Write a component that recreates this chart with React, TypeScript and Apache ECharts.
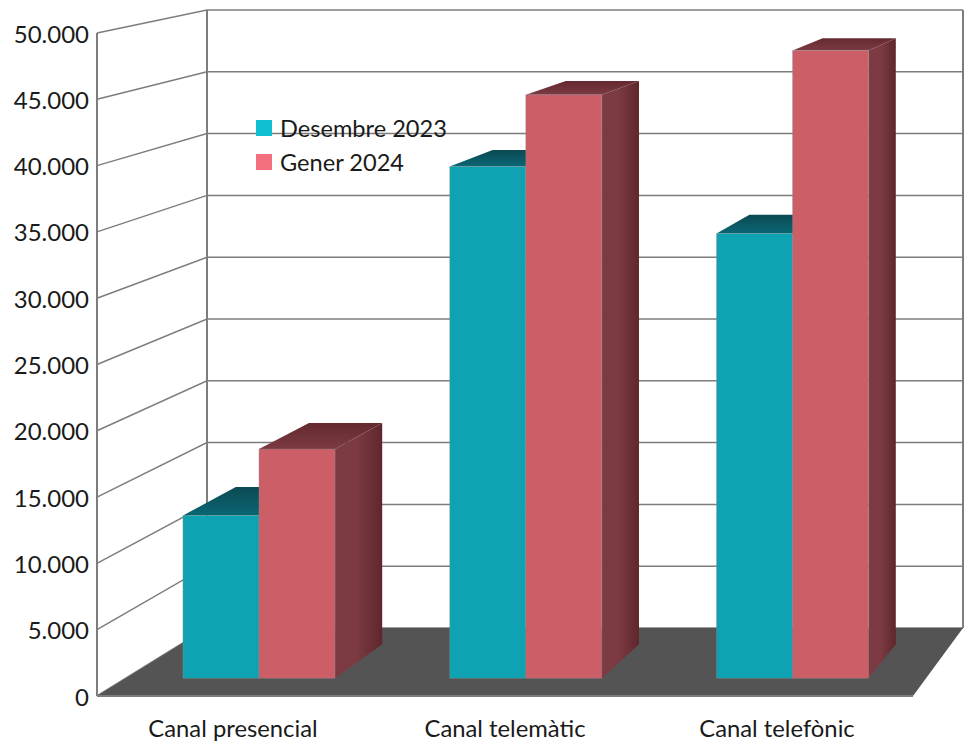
import React, { useEffect, useRef } from "react";
import * as echarts from "echarts";

const categories = ["Canal presencial", "Canal telemàtic", "Canal telefònic"];
const desembre2023 = [12500, 39300, 34150];
const gener2024 = [17600, 44800, 48200];
const tickValues = [0, 5000, 10000, 15000, 20000, 25000, 30000, 35000, 40000, 45000, 50000];

const FONT = "Lato";
const WIDTH = 970;
const HEIGHT = 744;

// Offsets of the back plane of the 3D box relative to the front plane.
const BACK = { left: 110, right: 50, top: -23, bottom: -68 };
const BAR_NEAR = 0.26;
const BAR_FAR = 0.76;
const BAR_BAND_SHARE = 0.285;

type Rect = { x: number; y: number; width: number; height: number };

// Carries a point of the front plane to the given depth (0 front, 1 back).
function project(cs: Rect, x: number, y: number, t: number): number[] {
  const fx = (x - cs.x) / cs.width;
  const fy = (cs.y + cs.height - y) / cs.height;
  const left = cs.x + BACK.left * t;
  const right = cs.x + cs.width + BACK.right * t;
  const bottom = cs.y + cs.height + BACK.bottom * t;
  const top = cs.y + BACK.top * t;
  return [left + fx * (right - left), bottom - fy * (bottom - top)];
}

function renderWallLine(params: any, api: any) {
  const cs = params.coordSys as Rect;
  const y = api.coord([0, api.value(1)])[1];
  const a = project(cs, cs.x, y, 0);
  const b = project(cs, cs.x, y, 1);
  const c = project(cs, cs.x + cs.width, y, 1);
  return {
    type: "polyline",
    silent: true,
    shape: { points: [a, b, c] },
    style: { fill: "none", stroke: "#7d7d7d", lineWidth: 1.5 },
  };
}

function renderFrame(params: any) {
  const cs = params.coordSys as Rect;
  const l = cs.x;
  const r = cs.x + cs.width;
  const t = cs.y;
  const b = cs.y + cs.height;
  const stroke = { stroke: "#7d7d7d", lineWidth: 2 };
  const edge = (p: number[], q: number[]) => ({
    type: "line",
    silent: true,
    shape: { x1: p[0], y1: p[1], x2: q[0], y2: q[1] },
    style: stroke,
  });
  return {
    type: "group",
    children: [
      edge([l, t], [l, b]),
      edge(project(cs, l, t, 1), project(cs, l, b, 1)),
      edge(project(cs, r, t, 1), project(cs, r, b, 1)),
      {
        type: "polygon",
        silent: true,
        shape: {
          points: [[l, b], project(cs, l, b, 1), project(cs, r, b, 1), [r, b]],
        },
        style: { fill: "#545454" },
      },
      edge([l, b], [r, b]),
    ],
  };
}

function makeBarRenderer(side: -1 | 1, front: string, sideFrom: string, sideTo: string, topBack: string, topFront: string) {
  return (params: any, api: any) => {
    const cs = params.coordSys as Rect;
    const [cx, yTop] = api.coord([api.value(0), api.value(1)]);
    const yBase = api.coord([api.value(0), 0])[1];
    const w = api.size([1, 0])[0] * BAR_BAND_SHARE;
    const x1 = side < 0 ? cx - w : cx;
    const x2 = side < 0 ? cx : cx + w;
    const pt = (x: number, y: number, t: number) => project(cs, x, y, t);
    return {
      type: "group",
      children: [
        {
          type: "polygon",
          silent: true,
          shape: {
            points: [pt(x2, yTop, BAR_NEAR), pt(x2, yTop, BAR_FAR), pt(x2, yBase, BAR_FAR), pt(x2, yBase, BAR_NEAR)],
          },
          style: {
            fill: {
              type: "linear", x: 0, y: 0, x2: 1, y2: 0,
              colorStops: [
                { offset: 0, color: sideFrom },
                { offset: 0.45, color: sideFrom },
                { offset: 1, color: sideTo },
              ],
            },
          },
        },
        {
          type: "polygon",
          silent: true,
          shape: {
            points: [pt(x1, yTop, BAR_NEAR), pt(x1, yTop, BAR_FAR), pt(x2, yTop, BAR_FAR), pt(x2, yTop, BAR_NEAR)],
          },
          style: {
            fill: {
              type: "linear", x: 0, y: 0, x2: 0, y2: 1,
              colorStops: [{ offset: 0, color: topBack }, { offset: 1, color: topFront }],
            },
          },
        },
        {
          type: "polygon",
          silent: true,
          shape: {
            points: [pt(x1, yTop, BAR_NEAR), pt(x2, yTop, BAR_NEAR), pt(x2, yBase, BAR_NEAR), pt(x1, yBase, BAR_NEAR)],
          },
          style: { stroke: "rgba(140,140,140,0.5)", lineWidth: 0.8, fill: front },
        },
      ],
    };
  };
}

const thousands = (v: number) => (v === 0 ? "0" : `${Math.floor(v / 1000)}.${String(v % 1000).padStart(3, "0")}`);

export default function App() {
  const ref = useRef<HTMLDivElement>(null);

  useEffect(() => {
    const chart = echarts.init(ref.current!, undefined, { renderer: "svg" });
    chart.setOption({
      animation: false,
      backgroundColor: "#ffffff",
      grid: { left: 97, right: 57, top: 33, bottom: 48 },
      legend: {
        left: 251,
        top: 111,
        orient: "vertical",
        icon: "rect",
        itemWidth: 16,
        itemHeight: 16,
        itemGap: 10,
        selectedMode: false,
        textStyle: { fontFamily: FONT, fontSize: 23.6, color: "#1a1a1a", padding: [0, 0, 0, 3] },
        data: [
          { name: "Desembre 2023", itemStyle: { color: "#10c0d2" } },
          { name: "Gener 2024", itemStyle: { color: "#f4707f" } },
        ],
      },
      xAxis: {
        type: "category",
        data: categories,
        axisLine: { show: false },
        axisTick: { show: false },
        axisLabel: { fontFamily: FONT, fontSize: 23.8, color: "#1a1a1a", margin: 20 },
      },
      yAxis: {
        type: "value",
        min: 0,
        max: 50000,
        interval: 5000,
        splitLine: { show: false },
        axisLine: { show: false },
        axisTick: { show: false },
        axisLabel: { fontFamily: FONT, fontSize: 24, color: "#1a1a1a", margin: 8, formatter: thousands },
      },
      series: [
        {
          name: "walls",
          type: "custom",
          z: 1,
          silent: true,
          clip: false,
          renderItem: renderWallLine,
          data: tickValues.map((v) => [0, v]),
        },
        {
          name: "frame",
          type: "custom",
          z: 2,
          silent: true,
          clip: false,
          renderItem: renderFrame,
          data: [[0, 0]],
        },
        {
          name: "Desembre 2023",
          type: "custom",
          z: 3,
          clip: false,
          itemStyle: { color: "#10c0d2" },
          renderItem: makeBarRenderer(-1, "#0fa2b3", "#0a6a78", "#07444c", "#0b4a52", "#0a6674"),
          data: desembre2023.map((v, i) => [i, v]),
        },
        {
          name: "Gener 2024",
          type: "custom",
          z: 4,
          clip: false,
          itemStyle: { color: "#f4707f" },
          renderItem: makeBarRenderer(1, "#cc5e68", "#7c3a42", "#5e272c", "#642a30", "#7b3a42"),
          data: gener2024.map((v, i) => [i, v]),
        },
      ],
    });
    return () => chart.dispose();
  }, []);

  return <div ref={ref} style={{ position: "fixed", left: 0, top: 0, width: WIDTH, height: HEIGHT }} />;
}
